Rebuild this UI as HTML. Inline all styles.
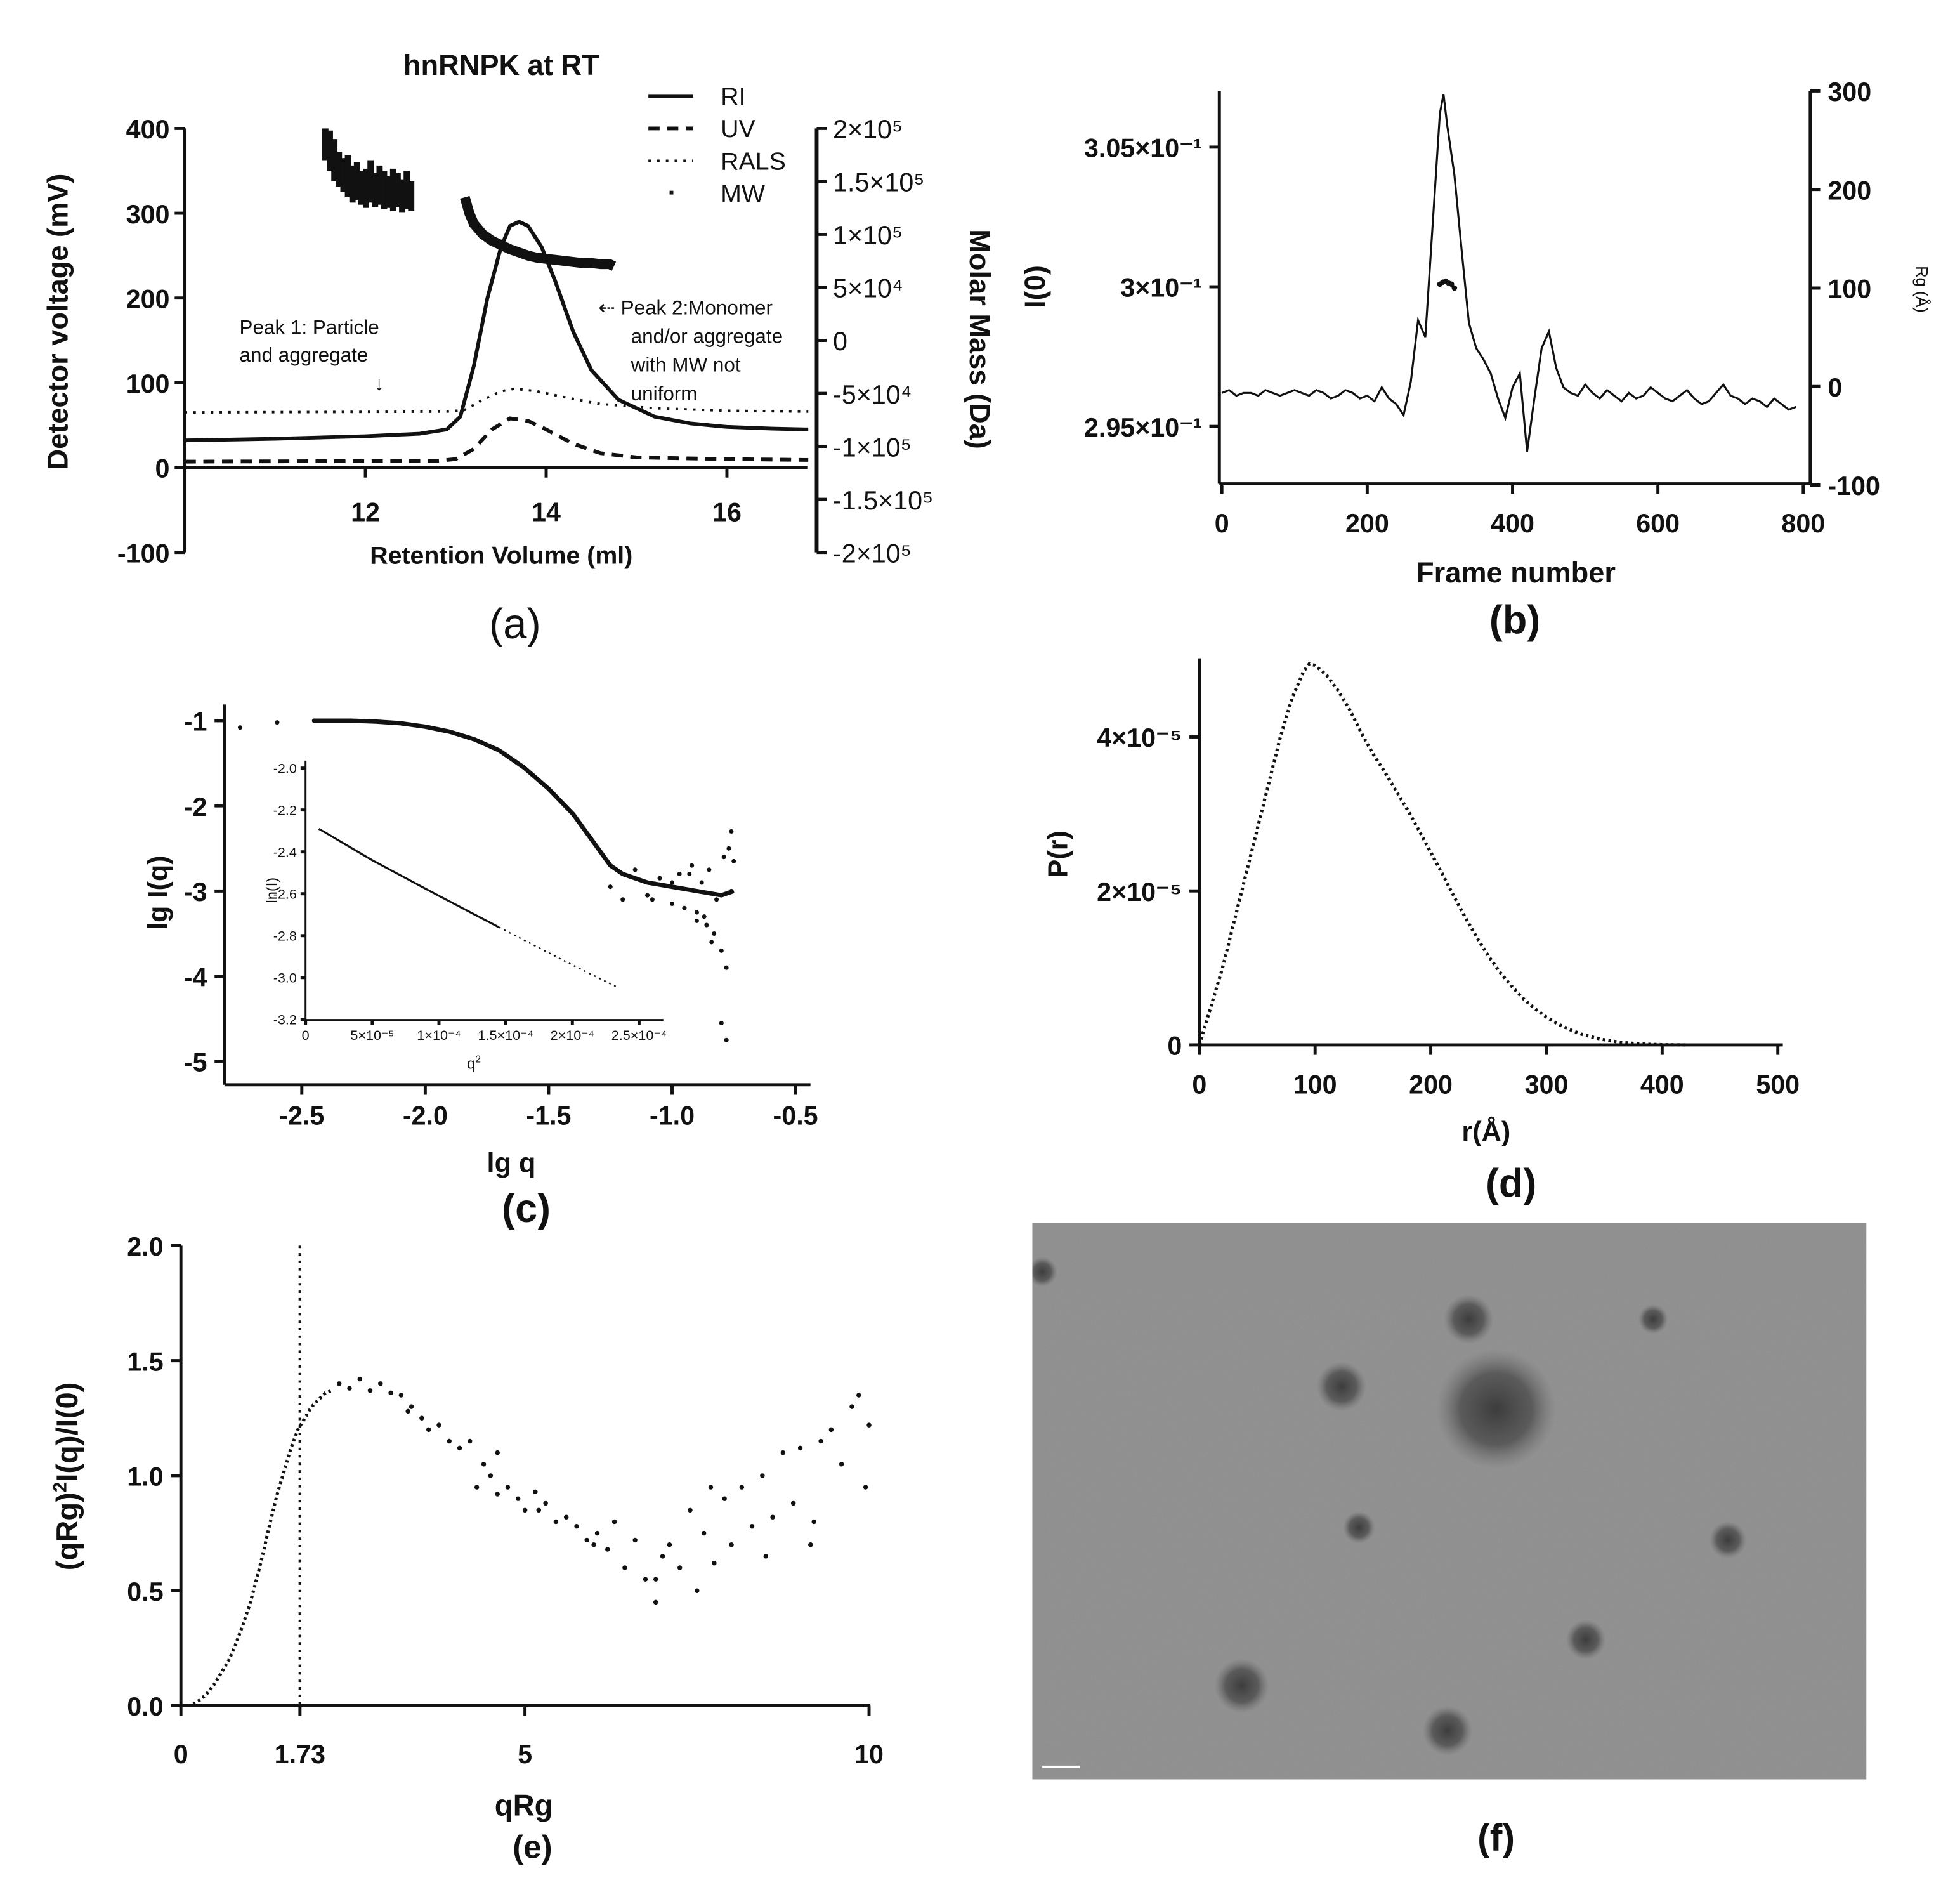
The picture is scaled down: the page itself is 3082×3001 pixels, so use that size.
<!DOCTYPE html>
<html><head><meta charset="utf-8"><style>
html,body{margin:0;padding:0;background:#fff}
svg{display:block}
text{font-family:"Liberation Sans",Arial,sans-serif;fill:#111}
.t{font-size:21px;font-weight:bold}
.b{font-weight:bold}
</style></head><body>
<svg id="fig" width="3082" height="3001" viewBox="0 0 1568 1527" xmlns="http://www.w3.org/2000/svg">
<g id="pa">
<text x="402" y="60" text-anchor="middle" class="b" font-size="23">hnRNPK at RT</text>
<g stroke="#111" stroke-width="3" fill="none">
<line x1="148" y1="103" x2="148" y2="443"/><line x1="148" y1="375" x2="648" y2="375"/>
<line x1="655" y1="103" x2="655" y2="443"/>
</g>
<g id="aYt" class="t" text-anchor="end"></g>
<g id="aRt" text-anchor="start" font-size="21"></g>
<g id="aXt" class="t" text-anchor="middle"></g>
<text x="402" y="452" text-anchor="middle" class="b" font-size="20">Retention Volume (ml)</text>
<text transform="translate(54,258) rotate(-90)" text-anchor="middle" class="b" font-size="23">Detector voltage (mV)</text>
<text transform="translate(778,272) rotate(90)" text-anchor="middle" class="b" font-size="23">Molar Mass (Da)</text>
<g font-size="20">
<line x1="520" y1="77" x2="556" y2="77" stroke="#111" stroke-width="3"/><text x="578" y="84">RI</text>
<line x1="520" y1="103" x2="556" y2="103" stroke="#111" stroke-width="3" stroke-dasharray="9 6"/><text x="578" y="110">UV</text>
<line x1="520" y1="129" x2="556" y2="129" stroke="#111" stroke-width="2" stroke-dasharray="2 5"/><text x="578" y="136">RALS</text>
<rect x="537" y="153" width="3" height="3" fill="#111"/><text x="578" y="162">MW</text>
</g>
<g font-size="16">
<text x="192" y="268">Peak 1: Particle</text><text x="192" y="290">and aggregate</text>
<text x="300" y="313">↓</text>
<text x="480" y="252">⇠ Peak 2:Monomer</text><text x="506" y="275">and/or aggregate</text><text x="506" y="298">with MW not</text><text x="506" y="321">uniform</text>
</g>
<g id="aPlot"></g>
<text x="413" y="512" text-anchor="middle" font-size="34">(a)</text>
</g>

<g id="pb">
<g stroke="#111" stroke-width="2.5" fill="none"><line x1="978" y1="73" x2="978" y2="388"/><line x1="978" y1="388" x2="1452" y2="388"/><line x1="1452" y1="73" x2="1452" y2="388"/></g>
<g id="bYt" class="t" text-anchor="end"></g>
<g id="bRt" class="t"></g>
<g id="bXt" class="t" text-anchor="middle"></g>
<text x="1216" y="467" text-anchor="middle" class="b" font-size="23">Frame number</text>
<text transform="translate(838,230) rotate(-90)" text-anchor="middle" class="b" font-size="23">I(0)</text>
<text transform="translate(1537,232) rotate(90)" text-anchor="middle" font-size="13">Rg (Å)</text>
<g id="bPlot"></g>
<text x="1215" y="508" text-anchor="middle" class="b" font-size="32">(b)</text>
</g>

<g id="pc">
<g stroke="#111" stroke-width="2.5" fill="none"><line x1="180" y1="565" x2="180" y2="870"/><line x1="180" y1="870" x2="650" y2="870"/></g>
<g id="cYt" class="t" text-anchor="end"></g>
<g id="cXt" class="t" text-anchor="middle"></g>
<text x="410" y="940" text-anchor="middle" class="b" font-size="22">lg q</text>
<text transform="translate(134,716) rotate(-90)" text-anchor="middle" class="b" font-size="22">lg I(q)</text>
<g id="cPlot"></g>
<g>
<g stroke="#111" stroke-width="1.5" fill="none"><line x1="245" y1="610" x2="245" y2="818"/><line x1="245" y1="818" x2="532" y2="818"/></g>
<g id="iYt" font-size="11" text-anchor="end"></g>
<g id="iXt" font-size="11" text-anchor="middle"></g>
<text x="380" y="857" text-anchor="middle" font-size="12">q<tspan dy="-5" font-size="8">2</tspan></text>
<text transform="translate(222,714) rotate(-90)" text-anchor="middle" font-size="12">ln(I)</text>
<g id="iPlot"></g>
</g>
<text x="422" y="980" text-anchor="middle" class="b" font-size="32">(c)</text>
</g>

<g id="pd">
<g stroke="#111" stroke-width="2.5" fill="none"><line x1="962" y1="528" x2="962" y2="838"/><line x1="962" y1="838" x2="1430" y2="838"/></g>
<g id="dYt" class="t" text-anchor="end"></g>
<g id="dXt" class="t" text-anchor="middle"></g>
<text x="1192" y="915" text-anchor="middle" class="b" font-size="22">r(Å)</text>
<text transform="translate(856,685) rotate(-90)" text-anchor="middle" class="b" font-size="22">P(r)</text>
<g id="dPlot"></g>
<text x="1212" y="960" text-anchor="middle" class="b" font-size="32">(d)</text>
</g>

<g id="pe">
<g stroke="#111" stroke-width="2.5" fill="none"><line x1="145" y1="999" x2="145" y2="1368"/><line x1="145" y1="1368" x2="698" y2="1368"/></g>
<g id="eYt" class="t" text-anchor="end"></g>
<g id="eXt" class="t" text-anchor="middle"></g>
<text x="420" y="1456" text-anchor="middle" class="b" font-size="24">qRg</text>
<text transform="translate(62,1184) rotate(-90)" text-anchor="middle" class="b" font-size="24">(qRg)<tspan dy="-9" font-size="15">2</tspan><tspan dy="9">I(q)/I(0)</tspan></text>
<g id="ePlot"></g>
<text x="427" y="1490" text-anchor="middle" class="b" font-size="26">(e)</text>
</g>

<g id="pf">
<defs><radialGradient id="blob"><stop offset="0" stop-color="#333" stop-opacity="0.9"/><stop offset="0.6" stop-color="#444" stop-opacity="0.7"/><stop offset="1" stop-color="#666" stop-opacity="0"/></radialGradient>
<filter id="nz" x="0" y="0" width="1" height="1" filterUnits="objectBoundingBox"><feTurbulence type="fractalNoise" baseFrequency="0.9" numOctaves="2" seed="3"/><feColorMatrix values="0 0 0 0 0.35 0 0 0 0 0.35 0 0 0 0 0.35 0 0 0 0.5 0"/></filter>
<clipPath id="fclip"><rect x="828" y="981" width="669" height="446"/></clipPath></defs>
<rect x="828" y="981" width="669" height="446" fill="#8e8e8e"/>
<g clip-path="url(#fclip)">
<rect x="828" y="981" width="669" height="446" filter="url(#nz)" opacity="0.6"/>
<g fill="url(#blob)">
<circle cx="1200" cy="1130" r="48"/><circle cx="1178" cy="1058" r="20"/><circle cx="1076" cy="1112" r="20"/>
<circle cx="996" cy="1352" r="22"/><circle cx="1161" cy="1388" r="20"/><circle cx="1272" cy="1315" r="16"/>
<circle cx="1386" cy="1235" r="15"/><circle cx="1090" cy="1225" r="13"/><circle cx="1326" cy="1058" r="12"/><circle cx="836" cy="1020" r="12"/>
</g>
</g>
<line x1="836" y1="1417" x2="866" y2="1417" stroke="#fff" stroke-width="2"/>
<text x="1200" y="1484" text-anchor="middle" class="b" font-size="30">(f)</text>
</g>
</svg>
<script>
const NS='http://www.w3.org/2000/svg';
function mk(tag,attrs,parent){const e=document.createElementNS(NS,tag);for(const k in attrs)e.setAttribute(k,attrs[k]);parent.appendChild(e);return e;}
function $(i){return document.getElementById(i);}
// ---------- data (a) ----------
const riX=[10,11,12,12.6,12.9,13.05,13.2,13.35,13.5,13.6,13.7,13.8,13.95,14.1,14.3,14.5,14.8,15.2,15.6,16,16.5,16.9];
const riY=[32,34,37,40,45,60,120,200,260,285,290,285,260,220,160,115,80,60,52,48,46,45];
const uvX=[10,12.8,13.0,13.2,13.4,13.6,13.8,14.0,14.3,14.6,15,16,16.9];
const uvY=[7,8,10,22,45,58,55,45,28,17,12,10,9];
const ralsX=[10,12.9,13.1,13.3,13.5,13.65,13.9,14.2,14.6,15.2,16,16.9];
const ralsY=[65,66,68,80,90,93,90,83,75,70,67,66];
const mw1X=[11.55,11.6,11.65,11.7,11.75,11.8,11.85,11.9,11.95,12.0,12.05,12.1,12.15,12.2,12.25,12.3,12.35,12.4,12.45,12.5];
const mw1Hi=[200,198,190,178,172,175,165,168,160,162,170,158,165,160,155,162,158,152,160,150];
const mw1Lo=[170,160,150,145,140,135,130,132,128,125,130,126,128,124,125,122,126,121,124,122];
const mw2X=[13.1,13.15,13.2,13.3,13.4,13.5,13.6,13.7,13.8,13.9,14.0,14.1,14.2,14.3,14.4,14.5,14.6,14.7,14.75];
const mw2Y=[135,120,110,100,94,90,86,83,80,78,77,76,75,74,73,73,72,72,70];
const aYticks=[400,300,200,100,0,-100];
const aRticks=['2×10⁵','1.5×10⁵','1×10⁵','5×10⁴','0','-5×10⁴','-1×10⁵','-1.5×10⁵','-2×10⁵'];
const aXticks=[12,14,16];
// ---------- data (b) ----------
const bF=[0,10,20,30,40,50,60,70,80,90,100,110,120,130,140,150,160,170,180,190,200,210,220,230,240,250,260,270,280,290,300,305,310,320,330,340,350,360,370,380,390,400,410,420,430,440,450,460,470,480,490,500,510,520,530,540,550,560,570,580,590,600,610,620,630,640,650,660,670,680,690,700,710,720,730,740,750,760,770,780,790];
const bI=[296.2,296.3,296.1,296.2,296.2,296.1,296.3,296.2,296.1,296.2,296.3,296.2,296.1,296.3,296.2,296.0,296.1,296.3,296.2,296.0,296.1,295.9,296.4,296.0,295.8,295.4,296.6,298.8,298.2,302.2,306.2,306.9,305.8,304.0,301.3,298.7,297.8,297.4,296.9,296.0,295.3,296.4,296.9,294.1,296.0,297.8,298.4,297.1,296.4,296.2,296.1,296.5,296.2,296.0,296.3,296.1,295.9,296.2,296.0,296.1,296.4,296.2,296.0,295.9,296.1,296.3,296.0,295.8,295.9,296.2,296.5,296.1,296.0,295.8,296.0,295.9,295.7,296.0,295.8,295.6,295.7];
const rgX=[300,304,308,312,316,320];
const rgY=[104,106,107,105,104,100];
const bYticks=[305,300,295];
const bYlabels=['3.05×10⁻¹','3×10⁻¹','2.95×10⁻¹'];
const bRticks=[300,200,100,0,-100];
const bXticks=[0,200,400,600,800];
// ---------- data (c) ----------
const cQ=[-2.75,-2.6,-2.45,-2.3,-2.2,-2.1,-2.0,-1.9,-1.8,-1.7,-1.6,-1.5,-1.4,-1.3,-1.25,-1.2,-1.1,-1.0,-0.9,-0.8,-0.75];
const cI=[-1.08,-1.02,-1.0,-1.0,-1.01,-1.03,-1.07,-1.13,-1.22,-1.35,-1.55,-1.8,-2.1,-2.5,-2.7,-2.8,-2.9,-2.95,-3.0,-3.05,-3.0];
const cNq=[-1.25,-1.2,-1.15,-1.1,-1.05,-1.0,-0.97,-0.95,-0.92,-0.9,-0.88,-0.86,-0.85,-0.83,-0.82,-0.8,-0.79,-0.78,-0.77,-0.76,-0.76,-0.75,-0.78,-0.8,-0.84,-0.87,-0.9,-0.93,-1.0,-1.08];
const cNi=[-2.95,-3.1,-2.75,-3.05,-2.85,-3.15,-2.8,-3.2,-2.7,-3.35,-2.9,-3.4,-2.75,-3.5,-3.1,-3.7,-2.6,-3.9,-2.5,-3.0,-2.3,-2.65,-4.75,-4.55,-3.6,-3.3,-3.25,-2.8,-2.9,-3.1];
const cYticks=[-1,-2,-3,-4,-5];
const cXticks=[-2.5,-2.0,-1.5,-1.0,-0.5];
const iQ2=[1e-5,5e-5,10e-5,14.5e-5,20e-5,23.5e-5];
const iLn=[-2.29,-2.44,-2.61,-2.76,-2.94,-3.05];
const iYticks=[-2.0,-2.2,-2.4,-2.6,-2.8,-3.0,-3.2];
const iXticks=[0,5e-5,1e-4,1.5e-4,2e-4,2.5e-4];
const iXlabels=['0','5×10⁻⁵','1×10⁻⁴','1.5×10⁻⁴','2×10⁻⁴','2.5×10⁻⁴'];
// ---------- data (d) ----------
const dR=[0,10,20,30,40,50,60,70,80,90,95,100,110,120,130,140,150,160,170,180,190,200,210,220,230,240,250,260,270,280,290,300,310,320,330,340,350,360,370,380,390,400,410,420];
const dP=[0,0.5,1.0,1.6,2.2,2.8,3.4,4.0,4.5,4.85,4.95,4.93,4.8,4.6,4.35,4.05,3.78,3.55,3.3,3.05,2.78,2.5,2.22,1.93,1.65,1.39,1.15,0.94,0.76,0.6,0.47,0.36,0.27,0.2,0.14,0.1,0.066,0.042,0.026,0.014,0.007,0.003,0.001,0];
const dYticks=[0,2,4];
const dYlabels=['0','2×10⁻⁵','4×10⁻⁵'];
const dXticks=[0,100,200,300,400,500];
// ---------- data (e) ----------
const eSx=[0.1,0.2,0.3,0.4,0.5,0.6,0.7,0.8,0.9,1.0,1.1,1.2,1.3,1.4,1.5,1.6,1.7,1.8,1.9,2.0,2.1,2.2];
const eSy=[0,0.01,0.03,0.06,0.1,0.15,0.2,0.27,0.35,0.44,0.55,0.67,0.8,0.92,1.02,1.12,1.2,1.25,1.3,1.33,1.36,1.37];
const eNx=[2.3,2.45,2.6,2.75,2.9,3.05,3.2,3.35,3.5,3.6,3.75,3.9,4.05,4.2,4.3,4.4,4.5,4.6,4.75,4.9,5.0,5.15,5.3,5.45,5.6,5.75,5.9,6.05,6.2,6.3,6.45,6.6,6.75,6.9,7.0,7.1,7.25,7.4,7.5,7.6,7.75,7.9,8.0,8.15,8.3,8.45,8.6,8.75,8.9,9.0,9.15,9.3,9.45,9.6,9.75,9.85,9.95,10.0,3.3,4.6,5.2,6.0,6.9,7.7,8.5,9.2];
const eNy=[1.4,1.38,1.42,1.37,1.4,1.36,1.35,1.3,1.25,1.2,1.22,1.15,1.12,1.15,0.95,1.05,1.0,0.92,0.95,0.9,0.85,0.93,0.88,0.8,0.82,0.78,0.72,0.75,0.68,0.8,0.6,0.72,0.55,0.45,0.65,0.7,0.6,0.85,0.5,0.75,0.62,0.9,0.7,0.95,0.78,1.0,0.82,1.1,0.88,1.12,0.7,1.15,1.2,1.05,1.3,1.35,0.95,1.22,1.28,1.1,0.85,0.7,0.55,0.95,0.65,0.8];
const eYticks=[0.0,0.5,1.0,1.5,2.0];
const eXticks=[0,1.73,5,10];
// ---------- scales ----------
const ax=v=>148+(v-10)*72.5, ay=v=>375-v*0.68, amw=v=>273-v*0.85; // mw in 1e3 Da
const bx=v=>980+v*0.583, by=v=>230-(v-300)*22.4, brg=v=>310-v*0.79;
const cx=v=>341+(v+2)*198, cy=v=>578-(v+1)*68.3;
const ix=v=>245+v*1.07e6, iy=v=>616-(v+2)*168;
const dx=v=>962+v*0.928, dy=v=>838-v*61.75;
const ex=v=>145+v*55.2, ey=v=>1368-v*184.5;
function poly(g,xs,ys,fx,fy,attrs,name){const pts=xs.map((x,i)=>fx(x)+','+fy(ys[i])).join(' ');const p=mk('polyline',Object.assign({points:pts,fill:'none',stroke:'#111'},attrs),g);

}
function tick(g,x1,y1,x2,y2){mk('line',{x1,y1,x2,y2,stroke:'#111','stroke-width':2.5},g);}
function lbl(g,x,y,s){const t=mk('text',{x,y},g);t.textContent=s;

}
function dot(g,x,y,r,name){const c=mk('circle',{cx:x,cy:y,r,fill:'#111'},g);

}
// (a)
aYticks.forEach(v=>{tick($('aYt'),140,ay(v),148,ay(v));lbl($('aYt'),136,ay(v)+8,String(v));});
aRticks.forEach((s,i)=>{const y=103+i*42.5;tick($('aRt'),655,y,663,y);lbl($('aRt'),668,y+8,s);});
aXticks.forEach(v=>{tick($('aXt'),ax(v),375,ax(v),383);lbl($('aXt'),ax(v),418,String(v));});
const ap=$('aPlot');
poly(ap,ralsX,ralsY,ax,ay,{'stroke-width':2,'stroke-dasharray':'2 5'},'rals-line');
poly(ap,uvX,uvY,ax,ay,{'stroke-width':3,'stroke-dasharray':'9 6'},'uv-line');
poly(ap,riX,riY,ax,ay,{'stroke-width':3},'ri-line');
mw1X.forEach((x,i)=>{const r=mk('rect',{x:ax(x)-2,y:amw(mw1Hi[i]),width:5,height:amw(mw1Lo[i])-amw(mw1Hi[i]),fill:'#111'},ap);

});
poly(ap,mw2X,mw2Y,ax,amw,{'stroke-width':8},'mw-peak2-points');
// (b)
bYticks.forEach((v,i)=>{tick($('bYt'),970,by(v),978,by(v));lbl($('bYt'),964,by(v)+8,bYlabels[i]);});
bRticks.forEach(v=>{tick($('bRt'),1452,brg(v),1460,brg(v));lbl($('bRt'),1466,brg(v)+8,String(v));});
bXticks.forEach(v=>{tick($('bXt'),bx(v),388,bx(v),396);lbl($('bXt'),bx(v),427,String(v));});
poly($('bPlot'),bF,bI,bx,by,{'stroke-width':1.6},'i0-line');
rgX.forEach((x,i)=>dot($('bPlot'),bx(x),brg(rgY[i]),2.2,'rg-point'));
// (c)
cYticks.forEach(v=>{tick($('cYt'),172,cy(v),180,cy(v));lbl($('cYt'),166,cy(v)+8,String(v));});
cXticks.forEach(v=>{tick($('cXt'),cx(v),870,cx(v),878);lbl($('cXt'),cx(v),902,v.toFixed(1));});
poly($('cPlot'),cQ.slice(2),cI.slice(2),cx,cy,{'stroke-width':3.5},'lgI-curve');
cQ.slice(0,3).forEach((q,i)=>dot($('cPlot'),cx(q),cy(cI[i]),1.8,'lgI-point'));
cNq.forEach((q,i)=>dot($('cPlot'),cx(q),cy(cNi[i]),1.8,'lgI-noise-point'));
iYticks.forEach(v=>{tick($('iYt'),241,iy(v),245,iy(v));lbl($('iYt'),238,iy(v)+4,v.toFixed(1));});
iXticks.forEach((v,i)=>{tick($('iXt'),ix(v),818,ix(v),822);lbl($('iXt'),ix(v),834,iXlabels[i]);});
poly($('iPlot'),iQ2.slice(0,4),iLn.slice(0,4),ix,iy,{'stroke-width':1.6},'guinier-fit');
poly($('iPlot'),iQ2.slice(3),iLn.slice(3),ix,iy,{'stroke-width':1.2,'stroke-dasharray':'1.5 3'},'guinier-data');
// (d)
dYticks.forEach((v,i)=>{tick($('dYt'),954,dy(v),962,dy(v));lbl($('dYt'),948,dy(v)+8,dYlabels[i]);});
dXticks.forEach(v=>{tick($('dXt'),dx(v),838,dx(v),846);lbl($('dXt'),dx(v),877,String(v));});
poly($('dPlot'),dR,dP,dx,dy,{'stroke-width':2.6,'stroke-dasharray':'2 2.6'},'pr-curve');
// (e)
eYticks.forEach(v=>{tick($('eYt'),137,ey(v),145,ey(v));lbl($('eYt'),131,ey(v)+8,v.toFixed(1));});
eXticks.forEach(v=>{tick($('eXt'),ex(v),1368,ex(v),1376);lbl($('eXt'),ex(v),1414,String(v));});
const vl=mk('line',{x1:ex(1.73),y1:999,x2:ex(1.73),y2:1368,stroke:'#111','stroke-width':2.2,'stroke-dasharray':'2 4'},$('ePlot'));


poly($('ePlot'),eSx,eSy,ex,ey,{'stroke-width':2.6,'stroke-dasharray':'2 2.5'},'kratky-low-q');
eNx.forEach((x,i)=>dot($('ePlot'),ex(x),ey(eNy[i]),1.9,'kratky-point'));
</script>
</body></html>
